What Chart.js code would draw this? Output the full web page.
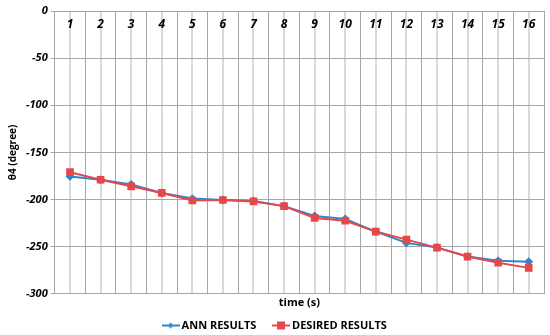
<!DOCTYPE html>
<html>
<head>
<meta charset="utf-8">
<script src="https://cdn.jsdelivr.net/npm/chart.js@4/dist/chart.umd.min.js"></script>
<style>
  html, body { margin: 0; padding: 0; background: #fff; }
  #wrap { width: 550px; height: 335px; }
</style>
</head>
<body>
<div id="wrap"><canvas id="grafica"></canvas></div>
<script>
// datos
const tiempos = ["1","2","3","4","5","6","7","8","9","10","11","12","13","14","15","16"];
const annResults = [-175.5, -179, -184, -193, -199, -200.5, -201.5, -207, -217.5, -220.5, -234, -246, -251, -260.5, -265, -266];
const desiredResults = [-171, -179, -186, -193, -201, -200.5, -202, -207, -219.5, -222.5, -234, -242.5, -251, -260.5, -267, -272.5];
const yTicks = [0, -50, -100, -150, -200, -250, -300];

const AZUL = '#2a86cf';
const ROJO = '#e5484c';
const FUENTE = '"Open Sans", sans-serif';

// icono de leyenda: linea + marcador
function iconoLeyenda(color, forma) {
  const c = document.createElement('canvas');
  c.width = 18; c.height = 10;
  const g = c.getContext('2d');
  g.strokeStyle = color; g.lineWidth = 2;
  g.beginPath(); g.moveTo(0, 5); g.lineTo(18, 5); g.stroke();
  g.fillStyle = color;
  if (forma === 'rect') {
    g.fillRect(5, 1, 8, 8);
  } else {
    g.beginPath(); g.moveTo(9, 2); g.lineTo(12, 5); g.lineTo(9, 8); g.lineTo(6, 5); g.closePath(); g.fill();
  }
  return c;
}

// etiquetas de categoria dentro del area (arriba)
const etiquetasArriba = {
  id: 'etiquetasArriba',
  afterDraw(chart) {
    const x = chart.scales.x;
    const ctx = chart.ctx;
    ctx.save();
    ctx.font = 'italic bold 12px ' + FUENTE;
    ctx.fillStyle = '#000';
    ctx.textAlign = 'center';
    ctx.textBaseline = 'middle';
    tiempos.forEach((t, i) => {
      ctx.fillText(t, x.getPixelForValue(i), chart.chartArea.top + 14);
    });
    ctx.restore();
  }
};

new Chart(document.getElementById('grafica').getContext('2d'), {
  type: 'line',
  data: {
    labels: tiempos,
    datasets: [{
      label: 'ANN RESULTS',
      data: annResults,
      borderColor: AZUL,
      backgroundColor: AZUL,
      borderWidth: 2,
      pointStyle: 'rectRot',
      pointRadius: 3,
      order: 1,
      tension: 0
    }, {
      label: 'DESIRED RESULTS',
      data: desiredResults,
      borderColor: ROJO,
      backgroundColor: ROJO,
      borderWidth: 2,
      pointStyle: 'rect',
      pointRadius: 4,
      order: 0,
      tension: 0
    }]
  },
  options: {
    responsive: true,
    maintainAspectRatio: false,
    animation: false,
    layout: { padding: { left: 7, right: 5, top: 11, bottom: -6 } },
    plugins: {
      tooltip: { enabled: false },
      legend: {
        position: 'bottom',
        labels: {
          font: { family: FUENTE, size: 11, weight: 'bold' },
          color: '#000',
          usePointStyle: true,
          boxHeight: 10,
          padding: 2,
          generateLabels: () => [
            { text: 'ANN RESULTS      ', pointStyle: iconoLeyenda(AZUL, 'diamond'), fillStyle: AZUL, strokeStyle: AZUL, lineWidth: 0, datasetIndex: 0 },
            { text: 'DESIRED RESULTS', pointStyle: iconoLeyenda(ROJO, 'rect'), fillStyle: ROJO, strokeStyle: ROJO, lineWidth: 0, datasetIndex: 1 }
          ]
        }
      }
    },
    scales: {
      x: {
        type: 'category',
        offset: true,
        grid: { offset: true, color: '#a6a6a6', drawTicks: false },
        border: { color: '#a6a6a6' },
        ticks: { display: false },
        title: {
          display: true,
          text: 'time (s)',
          font: { family: FUENTE, size: 11, weight: 'bold' },
          color: '#000',
          padding: { top: 2, bottom: 9 }
        }
      },
      x2: {
        type: 'category',
        labels: tiempos,
        offset: true,
        position: 'bottom',
        grid: { offset: false, color: '#d9d9d9', lineWidth: 2, drawTicks: false },
        border: { display: false },
        ticks: { display: false }
      },
      y: {
        min: -300,
        max: 0,
        afterBuildTicks: (s) => { s.ticks = yTicks.map(v => ({ value: v })); },
        grid: { color: '#a6a6a6', tickLength: 4 },
        border: { color: '#a6a6a6' },
        ticks: {
          font: { family: FUENTE, size: 11, style: 'italic', weight: 'bold' },
          color: '#000',
          padding: 3
        },
        title: {
          display: true,
          text: 'θ4 (degree)',
          font: { family: FUENTE, size: 10, weight: 'bold' },
          color: '#000',
          padding: { top: 0, bottom: 4 }
        }
      }
    }
  },
  plugins: [etiquetasArriba]
});
</script>
</body>
</html>
